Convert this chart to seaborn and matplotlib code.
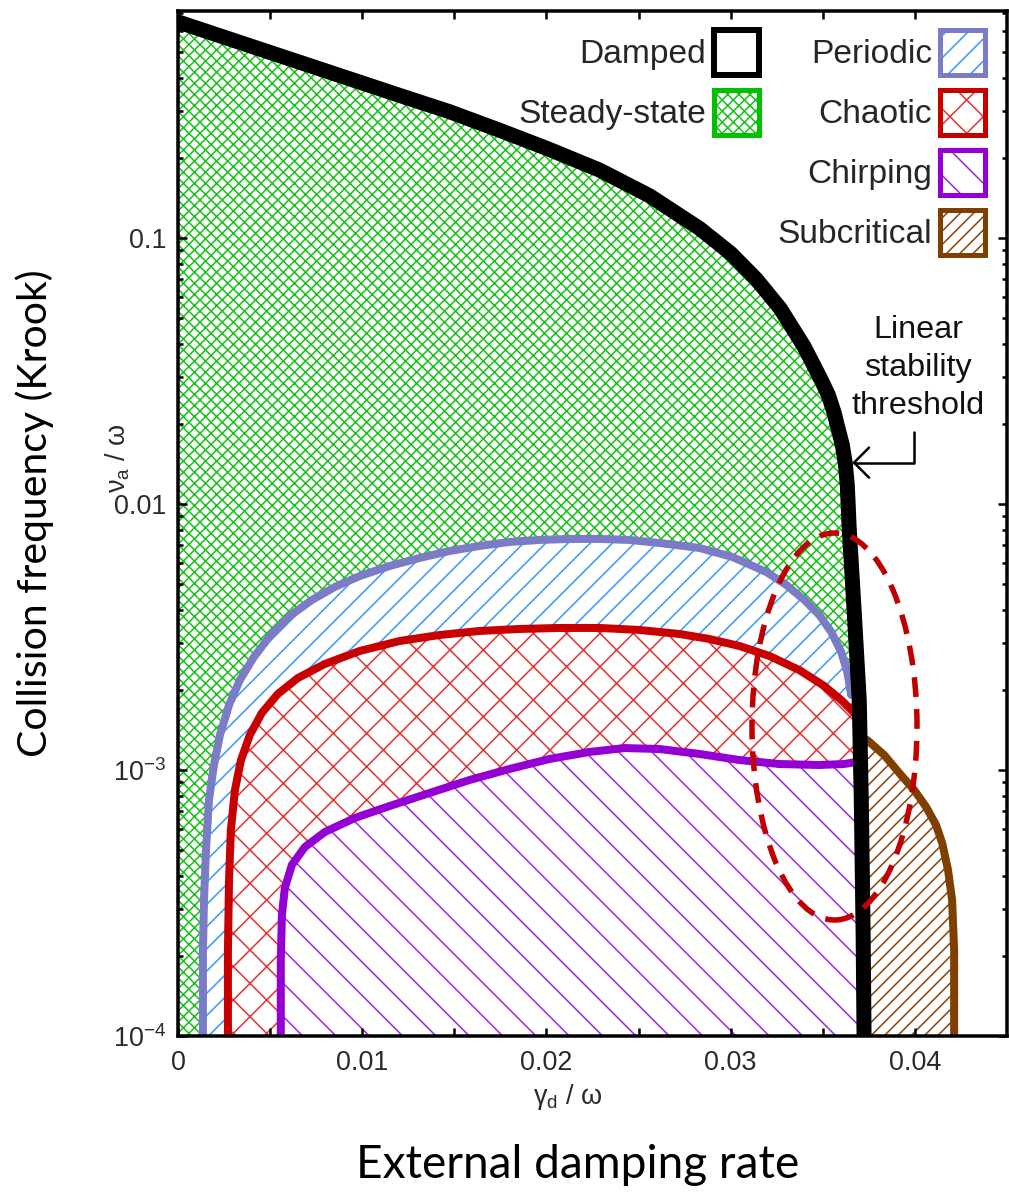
import numpy as np
import matplotlib
matplotlib.use("Agg")
import matplotlib.pyplot as plt
import seaborn as sns
from matplotlib.patches import Patch, Ellipse
from matplotlib.ticker import LogLocator, NullFormatter

# ---- regime boundaries: gamma_d/omega (x) vs nu_a/omega (y) ----
damped_x = [0.0, 0.004, 0.008, 0.012, 0.01475, 0.01746, 0.0201, 0.02288,
            0.0256, 0.0283, 0.0300, 0.03139, 0.0327, 0.0340, 0.03492, 0.03530,
            0.03562, 0.03578, 0.03606, 0.03622, 0.03633, 0.03638, 0.03643,
            0.0367, 0.03698, 0.03709, 0.03719, 0.03724]
damped_y = [0.649, 0.525, 0.425, 0.344, 0.298, 0.254, 0.216, 0.180,
            0.144, 0.1087, 0.0876, 0.0700, 0.0542, 0.0389, 0.0292, 0.02569,
            0.0220, 0.01982, 0.01667, 0.01426, 0.01179, 0.00991, 0.0082,
            0.0040, 0.00183, 7.7e-4, 2.44e-4, 1.0e-4]

periodic_x = [0.001355, 0.001355, 0.00141, 0.00152, 0.00168, 0.00195, 0.00228,
              0.00277, 0.00336, 0.00412, 0.00499, 0.00607, 0.00727, 0.00851,
              0.00987, 0.01149, 0.01312, 0.01475, 0.01637, 0.01800, 0.01963,
              0.02125, 0.02288, 0.02451, 0.02613, 0.02830, 0.03009, 0.03193,
              0.03302, 0.03400, 0.03481, 0.03546, 0.03600, 0.03633, 0.03654]
periodic_y = [1.0e-4, 2.105e-4, 3.245e-4, 5.003e-4, 7.714e-4, 1.044e-3,
              1.354e-3, 1.755e-3, 2.179e-3, 2.659e-3, 3.190e-3, 3.793e-3,
              4.356e-3, 4.875e-3, 5.362e-3, 5.847e-3, 6.266e-3, 6.657e-3,
              6.953e-3, 7.197e-3, 7.324e-3, 7.387e-3, 7.387e-3, 7.324e-3,
              7.135e-3, 6.834e-3, 6.321e-3, 5.551e-3, 4.960e-3, 4.356e-3,
              3.826e-3, 3.303e-3, 2.777e-3, 2.336e-3, 1.914e-3]

chaotic_x = [0.00271, 0.00271, 0.00277, 0.00287, 0.00309, 0.00342, 0.00390,
             0.00455, 0.00542, 0.00651, 0.00797, 0.00987, 0.01204, 0.01421,
             0.01637, 0.01854, 0.02071, 0.02288, 0.02505, 0.02722, 0.02884,
             0.03047, 0.03210, 0.03372, 0.03508, 0.03606, 0.03671]
chaotic_y = [1.0e-4, 2.105e-4, 3.859e-4, 5.948e-4, 8.410e-4, 1.090e-3,
             1.354e-3, 1.638e-3, 1.931e-3, 2.218e-3, 2.503e-3, 2.802e-3,
             3.055e-3, 3.217e-3, 3.331e-3, 3.389e-3, 3.419e-3, 3.419e-3,
             3.360e-3, 3.245e-3, 3.108e-3, 2.926e-3, 2.683e-3, 2.376e-3,
             2.069e-3, 1.817e-3, 1.638e-3]

chirping_x = [0.00558, 0.00558, 0.00564, 0.00580, 0.00618, 0.00689, 0.00797,
              0.00960, 0.01149, 0.01366, 0.01583, 0.01800, 0.02017, 0.02234,
              0.02424, 0.02613, 0.02830, 0.03047, 0.03264, 0.03481, 0.03616,
              0.03681]
chirping_y = [1.0e-4, 1.931e-4, 2.851e-4, 3.601e-4, 4.395e-4, 5.135e-4,
              5.846e-4, 6.600e-4, 7.322e-4, 8.194e-4, 9.172e-4, 1.009e-3,
              1.100e-3, 1.169e-3, 1.209e-3, 1.199e-3, 1.149e-3, 1.090e-3,
              1.053e-3, 1.044e-3, 1.053e-3, 1.072e-3]

subcritical_x = [0.03741, 0.03833, 0.03915, 0.03996, 0.04061, 0.04115,
                 0.04148, 0.04180, 0.04202, 0.04213, 0.04213]
subcritical_y = [1.296e-3, 1.139e-3, 9.743e-4, 8.41e-4, 7.26e-4, 6.21e-4,
                 5.316e-4, 4.208e-4, 3.245e-4, 2.105e-4, 1.0e-4]

# ---- axis ticks and labels ----
xtick_values = [0, 0.01, 0.02, 0.03, 0.04]
xtick_labels = ["0", "0.01", "0.02", "0.03", "0.04"]
ytick_values = [1e-4, 1e-3, 1e-2, 1e-1]
ytick_labels = ["$10^{-4}$", "$10^{-3}$", "0.01", "0.1"]

DPI = 200
W, H = 1009, 1194


def px(v):
    """pixel size -> points"""
    return v * 72.0 / DPI


sns.set_theme(style="ticks")
plt.rcParams.update({
    "font.family": ["Liberation Sans", "DejaVu Sans"],
    "mathtext.fontset": "custom",
    "mathtext.rm": "Liberation Sans",
    "mathtext.it": "Liberation Sans:italic",
    "mathtext.default": "regular",
    "hatch.linewidth": px(1.6),
    "axes.linewidth": px(3.5),
    "axes.edgecolor": "black",
})

# regime styles: hatch pattern, hatch colour, border colour
styles = {
    "Steady-state": dict(hatch="xxxxxx", hc="#22c022", ec="#00c000"),
    "Periodic": dict(hatch="///", hc="#3a9cff", ec="#7b7bc6"),
    "Chaotic": dict(hatch="xx", hc="#e03a3a", ec="#c80000"),
    "Chirping": dict(hatch="\\\\", hc="#a030e0", ec="#9400d3"),
    "Subcritical": dict(hatch="/////", hc="#8b4a14", ec="#7f3f00"),
}

fig = plt.figure(figsize=(W / DPI, H / DPI), dpi=DPI)
fig.patch.set_facecolor("white")
L, R, T, B = 178, 1007, 11, 1036
ax = fig.add_axes([L / W, 1 - B / H, (R - L) / W, (B - T) / H])
ax.set_facecolor("white")
ax.set_yscale("log")


def closed_region(cx, cy):
    """close a boundary curve along the damping threshold and the bottom edge"""
    end_y = cy[-1]
    bx = [x for x, y in zip(damped_x, damped_y) if y < end_y]
    by = [y for y in damped_y if y < end_y]
    return list(cx) + bx + [cx[0]], list(cy) + by + [cy[0]]


# steady-state region below the threshold
s = styles["Steady-state"]
ax.fill([0.0] + damped_x, [damped_y[-1]] + damped_y, facecolor="white",
        edgecolor=s["hc"], hatch=s["hatch"], linewidth=0, zorder=1)

order = [("Periodic", periodic_x, periodic_y),
         ("Chaotic", chaotic_x, chaotic_y),
         ("Chirping", chirping_x, chirping_y)]
z = 2
for name, cx, cy in order:
    s = styles[name]
    fx, fy = closed_region(cx, cy)
    ax.fill(fx, fy, facecolor="white", edgecolor=s["hc"], hatch=s["hatch"],
            linewidth=0, zorder=z)
    sns.lineplot(x=cx, y=cy, sort=False, estimator=None, color=s["ec"],
                 linewidth=px(8), ax=ax, zorder=z + 0.5)
    z += 1

# subcritical region right of the threshold
s = styles["Subcritical"]
low = [(x, y) for x, y in zip(damped_x, damped_y) if y < subcritical_y[0]][::-1]
sx = [p[0] for p in low] + subcritical_x
sy = [p[1] for p in low] + subcritical_y
ax.fill(sx, sy, facecolor="white", edgecolor=s["hc"], hatch=s["hatch"],
        linewidth=0, zorder=z)
sns.lineplot(x=subcritical_x, y=subcritical_y, sort=False, estimator=None,
             color=s["ec"], linewidth=px(8), ax=ax, zorder=z + 0.5)

# damping threshold on top
sns.lineplot(x=damped_x, y=damped_y, sort=False, estimator=None, color="black",
             linewidth=px(15), ax=ax, zorder=10)

ax.set_xlim(0, 0.045)
ax.set_ylim(1e-4, 0.713)
ax.set_xlabel("")
ax.set_ylabel("")

ax.set_xticks(xtick_values)
ax.set_xticklabels(xtick_labels)
ax.set_xticks(np.arange(0.005, 0.045, 0.01), minor=True)
ax.set_yticks(ytick_values)
ax.set_yticklabels(ytick_labels)
ax.yaxis.set_minor_locator(LogLocator(base=10, subs=np.arange(2, 10)))
ax.yaxis.set_minor_formatter(NullFormatter())
ax.tick_params(which="both", direction="in", top=True, right=True,
               color="black", width=px(2.5))
ax.tick_params(axis="x", which="both", length=px(8), pad=px(14),
               labelsize=px(27), labelcolor="#2a2a2a")
ax.tick_params(axis="y", which="major", length=px(9), pad=px(12),
               labelsize=px(27), labelcolor="#2a2a2a")
ax.tick_params(axis="y", which="minor", length=px(5))
for sp in ax.spines.values():
    sp.set_zorder(20)
    sp.set_visible(True)
ax.xaxis.set_zorder(21)
ax.yaxis.set_zorder(21)

# small axis labels
ax.text((568 - L) / (R - L), (B - 1097) / (B - T), r"$\gamma_d$ / $\omega$",
        transform=ax.transAxes, ha="center", va="center", fontsize=px(27),
        color="#2a2a2a")
ax.text((118 - L) / (R - L), (B - 458) / (B - T), r"$\nu_a$ / $\omega$",
        transform=ax.transAxes, ha="center", va="center", rotation=90,
        fontsize=px(27), color="#2a2a2a")

# legend: two columns, labels left of their swatches
def swatch(name):
    s = styles[name]
    return (Patch(facecolor="white", edgecolor=s["hc"], hatch=s["hatch"], linewidth=0),
            Patch(facecolor="none", edgecolor=s["ec"], linewidth=px(5)))


blank = Patch(facecolor="none", edgecolor="none")
handles = [Patch(facecolor="white", edgecolor="black", linewidth=px(6)),
           swatch("Steady-state"), blank, blank,
           swatch("Periodic"), swatch("Chaotic"), swatch("Chirping"),
           swatch("Subcritical")]
labels = ["Damped", "Steady-state", "", "",
          "Periodic", "Chaotic", "Chirping", "Subcritical"]
fs_leg = px(33.5)
leg = ax.legend(handles, labels, ncol=2, markerfirst=False, frameon=False,
                loc="upper right", bbox_to_anchor=(985 / W, 1 - 30 / H),
                bbox_transform=fig.transFigure, borderpad=0, borderaxespad=0,
                fontsize=fs_leg, handlelength=45 / 33.5, handleheight=1.689,
                handletextpad=8 / 33.5, labelspacing=15 / 33.5,
                columnspacing=18 / 33.5)
leg.set_zorder(30)

# threshold annotation
fig.text(918 / W, 1 - 368 / H, "Linear\nstability\nthreshold", ha="center",
         va="center", fontsize=px(32.4), color="#111111", linespacing=1.33)
ax.annotate("", xy=(0.0366, 0.0143), xycoords="data",
            xytext=(914, H - 432), textcoords="figure pixels",
            arrowprops=dict(arrowstyle="->,head_length=0.5,head_width=0.5",
                            connectionstyle="angle,angleA=90,angleB=0,rad=0",
                            color="black", lw=px(2.5), shrinkA=0, shrinkB=0,
                            mutation_scale=px(30)),
            zorder=30, annotation_clip=False)

# dashed ellipse around the transition zone
fig.add_artist(Ellipse((834.5 / W, 1 - 726.5 / H), 165 / W, 387 / H,
                       transform=fig.transFigure, fill=False,
                       edgecolor="#c00000", linewidth=px(5.5),
                       linestyle=(0, (3.6, 2.2)), zorder=40))

# slide captions
fig.text(35 / W, 1 - 513 / H, "Collision frequency (Krook)", rotation=90,
         ha="center", va="center", fontsize=px(41), family="Lato",
         color="black")
fig.text(578 / W, 1 - 1165 / H, "External damping rate", ha="center",
         va="center", fontsize=px(46), family="Lato", color="black")

fig.savefig("out.png", dpi=DPI, facecolor="white")
